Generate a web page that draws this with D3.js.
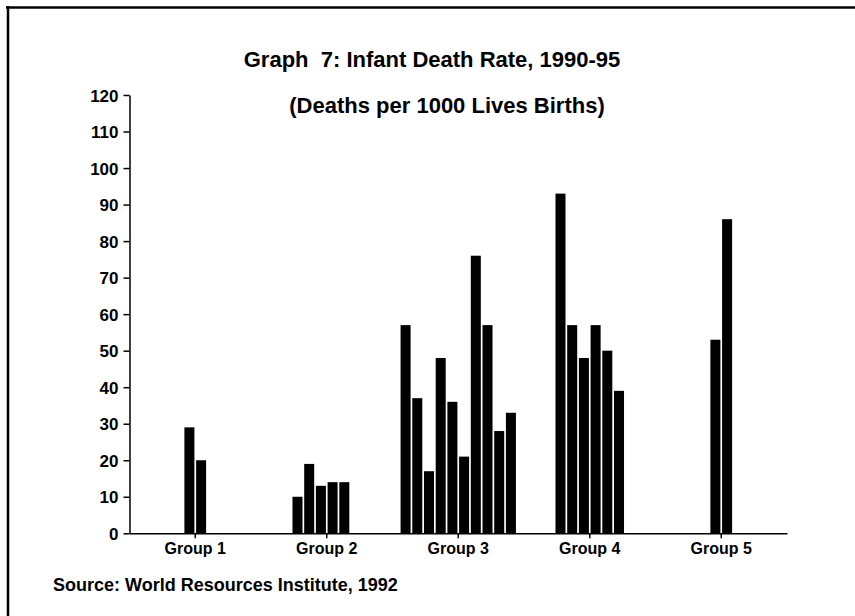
<!DOCTYPE html>
<html>
<head>
<meta charset="utf-8">
<script src="https://cdn.jsdelivr.net/npm/d3@7"></script>
<style>
  html, body { margin: 0; padding: 0; background: #fff; }
  svg { display: block; }
  text { font-family: "Liberation Sans", Arial, Helvetica, sans-serif; font-weight: bold; fill: #000; white-space: pre; }
</style>
</head>
<body>
<svg id="chart" width="855" height="616"></svg>
<script>
// ---- Data ----
const categories = ["Group 1", "Group 2", "Group 3", "Group 4", "Group 5"];
const seriesSlots = ["S1", "S2", "S3", "S4", "S5", "S6", "S7", "S8", "S9", "S10"];
const group1Values = [null, null, null, null, 29, 20, null, null, null, null];
const group2Values = [null, null, 10, 19, 13, 14, 14, null, null, null];
const group3Values = [57, 37, 17, 48, 36, 21, 76, 57, 28, 33];
const group4Values = [null, null, 93, 57, 48, 57, 50, 39, null, null];
const group5Values = [null, null, null, null, 53, 86, null, null, null, null];
const yTickValues = [0, 10, 20, 30, 40, 50, 60, 70, 80, 90, 100, 110, 120];
const titleText = "Graph  7: Infant Death Rate, 1990-95";
const subtitleText = "(Deaths per 1000 Lives Births)";
const sourceText = "Source: World Resources Institute, 1992";

const groupValues = [group1Values, group2Values, group3Values, group4Values, group5Values];

// ---- Drawing ----
const svg = d3.select("#chart");

// frame lines (scanned page border)
svg.append("line").attr("x1", 6).attr("x2", 855).attr("y1", 7.5).attr("y2", 7.5)
  .attr("stroke", "#000").attr("stroke-width", 2.5);
svg.append("line").attr("x1", 8).attr("x2", 8).attr("y1", 6).attr("y2", 616)
  .attr("stroke", "#000").attr("stroke-width", 2.5);

const plotLeft = 129.5, plotRight = 787, plotTop = 95, plotBottom = 533.3;

const x0 = d3.scaleBand().domain(categories).range([plotLeft, plotRight]).paddingInner(0).paddingOuter(0);
const x1 = d3.scaleBand().domain(seriesSlots).range([0, x0.bandwidth()]).paddingInner(0.145).paddingOuter(0.69);
const y = d3.scaleLinear().domain([0, 120]).range([plotBottom, plotTop]);

// bars
const barData = [];
categories.forEach((c, gi) => {
  groupValues[gi].forEach((v, si) => {
    if (v !== null) barData.push({ cat: c, slot: seriesSlots[si], value: v });
  });
});

svg.append("g").selectAll("rect").data(barData).join("rect")
  .attr("x", d => x0(d.cat) + x1(d.slot))
  .attr("width", x1.bandwidth())
  .attr("y", d => y(d.value))
  .attr("height", d => y(0) - y(d.value))
  .attr("fill", "#000");

// y axis
const yAxis = svg.append("g").attr("transform", `translate(${plotLeft},0)`)
  .call(d3.axisLeft(y).tickValues(yTickValues).tickSize(6).tickSizeOuter(0).tickPadding(5));
yAxis.selectAll("text").style("font-size", "17px").attr("dy", "0.36em");
yAxis.selectAll("line, path").attr("stroke", "#000").attr("stroke-width", 1.5);

// x axis
const xAxis = svg.append("g").attr("transform", `translate(0,${plotBottom})`)
  .call(d3.axisBottom(x0).tickSize(5).tickSizeOuter(0).tickPadding(4));
xAxis.selectAll("text").style("font-size", "16px");
xAxis.selectAll("line, path").attr("stroke", "#000").attr("stroke-width", 1.5);

// titles
svg.append("text").attr("x", 432).attr("y", 67).attr("text-anchor", "middle")
  .style("font-size", "22px").text(titleText);
svg.append("text").attr("x", 447).attr("y", 113).attr("text-anchor", "middle")
  .style("font-size", "22px").text(subtitleText);

// source
svg.append("text").attr("x", 53).attr("y", 591)
  .style("font-size", "18px").text(sourceText);
</script>
</body>
</html>
